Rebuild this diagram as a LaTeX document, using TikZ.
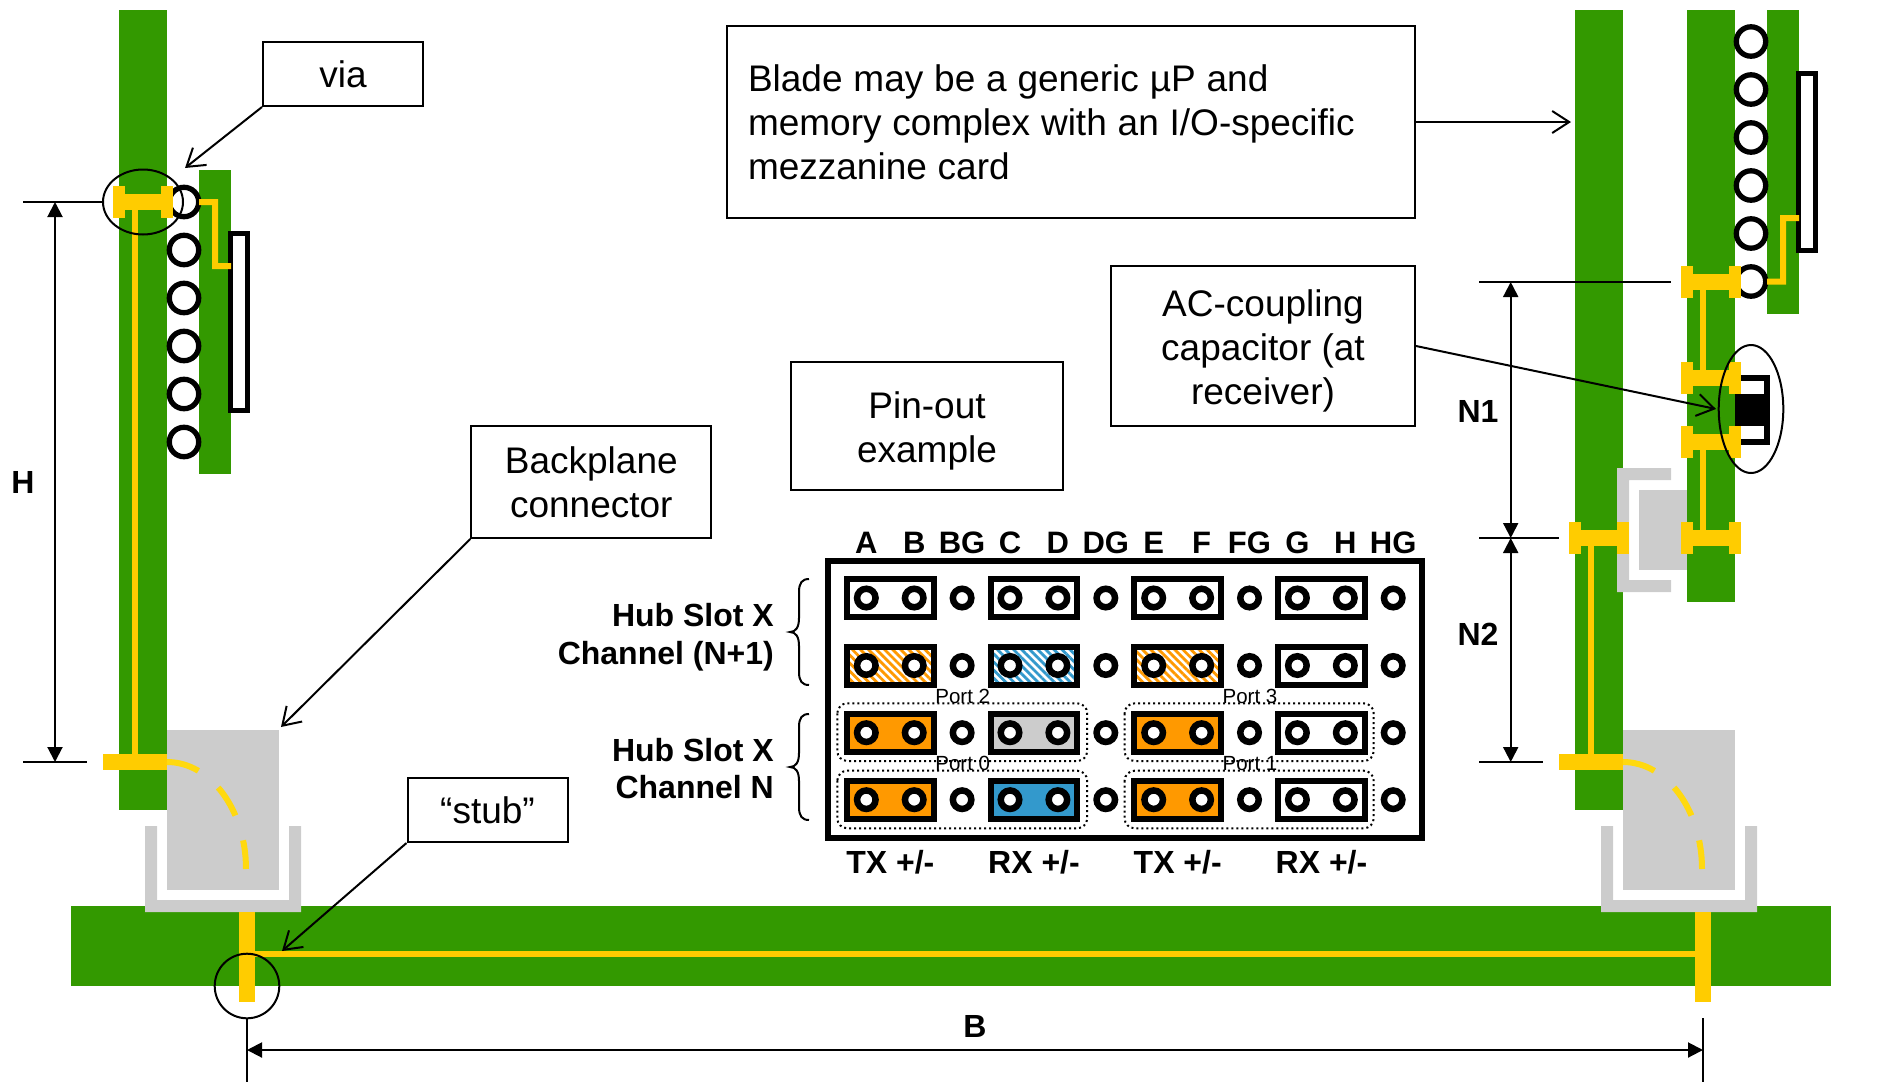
\documentclass[tikz,border=0pt]{standalone}
\usepackage{fontspec}
\usepackage{xcolor}
\usetikzlibrary{arrows.meta,patterns.meta}
\setmainfont{Liberation Sans}
\definecolor{boardgreen}{HTML}{339900}
\definecolor{traceyellow}{HTML}{FFCC00}
\definecolor{bendyellow}{HTML}{FFD90F}
\definecolor{shellgray}{HTML}{CCCCCC}
\definecolor{txorange}{HTML}{FF9900}
\definecolor{rxblue}{HTML}{3399CC}

\begin{document}
\begin{tikzpicture}[x=1pt,y=-1pt]
    \tikzstyle{board}=[fill=boardgreen]
    \tikzstyle{trace}=[fill=traceyellow]
    \tikzstyle{shell}=[fill=shellgray]
    \tikzstyle{hole}=[draw=black,fill=white,line width=5.3pt]
    \tikzstyle{chip}=[draw=black,fill=white,line width=5.3pt]
    \tikzstyle{ring}=[draw=black,line width=2pt]
    \tikzstyle{callout}=[draw=black,line width=2pt,inner sep=0pt,align=center,font={\fontsize{37}{44}\selectfont}]
    \tikzstyle{pointer}=[draw=black,line width=2pt,-{Straight Barb[length=17pt,width=22pt]}]
    \tikzstyle{dimline}=[draw=black,line width=2pt]
    \tikzstyle{dimarrow}=[draw=black,line width=2pt,{Triangle[length=15pt,width=15pt]}-{Triangle[length=15pt,width=15pt]}]
    \tikzstyle{boldlabel}=[inner sep=0pt,font={\bfseries\fontsize{32}{38}\selectfont}]
    \tikzstyle{collabel}=[anchor=base,inner sep=0pt,font={\bfseries\fontsize{31}{36}\selectfont}]
    \tikzstyle{portlabel}=[anchor=base,inner sep=0pt,font={\fontsize{20.5}{24}\selectfont}]
    \tikzstyle{slotopen}=[draw=black,fill=white,line width=6pt]
    \tikzstyle{slottx}=[draw=black,fill=txorange,line width=6pt]
    \tikzstyle{slotrx}=[draw=black,fill=rxblue,line width=6pt]
    \tikzstyle{slotgray}=[draw=black,fill=shellgray,line width=6pt]
    \tikzstyle{slottxhatch}=[draw=black,line width=6pt,pattern={Lines[angle=-45,distance=5.7pt,line width=2.8pt]},pattern color=txorange]
    \tikzstyle{slotrxhatch}=[draw=black,line width=6pt,pattern={Lines[angle=-45,distance=5.7pt,line width=2.8pt]},pattern color=rxblue]
    \tikzstyle{portgroup}=[draw=black,line width=2pt,rounded corners=10pt,dash pattern=on 2pt off 3pt]

    \useasboundingbox (0,0) rectangle (1881,1087);

    \fill[board] (71,906) rectangle (1831,986);
    \fill[board] (1687,10) rectangle (1735,602);
    \fill[board] (199,170) rectangle (231,474);
    \fill[board] (1767,10) rectangle (1799,313.5);

    \foreach \dx in {0,1456} {
        \begin{scope}[shift={(\dx,0)}]
            \fill[board] (119,10) rectangle (167,810);
            \fill[shell] (167,730) rectangle (279,890);
            \fill[shell] (145,826) -- (157,826) -- (157,900) -- (289,900) -- (289,826) -- (301,826) -- (301,912) -- (145,912) -- cycle;
            \fill[trace] (103,754) rectangle (167,770);
            \draw[bendyellow,line width=6pt,dash pattern=on 33pt off 26pt] (167,762) .. controls (210.5,762) and (246,810) .. (246,869);
            \fill[trace] (239,912) rectangle (255,1002);
        \end{scope}
    }
    \fill[trace] (255,951) rectangle (1695,957);
    \fill[trace] (132,202) rectangle (138,754);
    \fill[trace] (1588,538) rectangle (1594,754);

    \fill[shell] (1671,468) -- (1671,480) -- (1629,480) -- (1629,580) -- (1671,580) -- (1671,592) -- (1617,592) -- (1617,468) -- cycle;
    \fill[shell] (1639,490) rectangle (1687,570);

    \foreach \y in {202,250,298,346,394,442}
        \draw[hole] (184,\y) circle (14.7);
    \foreach \y in {41.5,89.5,137.5,185.5,233.5,281.5}
        \draw[hole] (1751,\y) circle (14.7);

    \draw[chip] (230.5,233.5) rectangle (247.5,410.5);
    \draw[chip] (1798.5,73.5) rectangle (1815.5,250.5);
    \fill[trace] (199,199) -- (218,199) -- (218,263) -- (231,263) -- (231,269) -- (212,269) -- (212,205) -- (199,205) -- cycle;
    \fill[trace] (1767,278.5) -- (1780,278.5) -- (1780,215) -- (1799,215) -- (1799,221) -- (1786,221) -- (1786,284.5) -- (1767,284.5) -- cycle;

    \fill[trace] (1700,282) rectangle (1706,378);
    \fill[trace] (1700,442) rectangle (1706,538);

    \fill[black] (1735,394) rectangle (1770,426);
    \draw[black,line width=6pt] (1741,378) -- (1767,378) -- (1767,442) -- (1741,442);

    \foreach \vx/\vy in {113/202,1681/282,1681/378,1681/442,1681/538,1569/538} {
        \fill[trace] (\vx,\vy-16) rectangle (\vx+12,\vy+16);
        \fill[trace] (\vx+48,\vy-16) rectangle (\vx+60,\vy+16);
        \fill[trace] (\vx+12,\vy-8) rectangle (\vx+48,\vy+8);
    }

    \draw[ring] (143,202) ellipse [x radius=40,y radius=32.5];
    \draw[ring] (1751,409) ellipse [x radius=32.3,y radius=64];
    \draw[ring] (247,986) circle (32.3);

    \coordinate (hTopA) at (23,202);
    \coordinate (hTopB) at (102,202);
    \coordinate (hBotA) at (23,762);
    \coordinate (hBotB) at (87,762);
    \coordinate (hTip) at (55,202);
    \coordinate (hEnd) at (55,762);
    \draw[dimline] (hTopA) -- (hTopB);
    \draw[dimline] (hBotA) -- (hBotB);
    \draw[dimarrow] (hTip) -- (hEnd);

    \coordinate (nTopA) at (1479,282);
    \coordinate (nTopB) at (1671,282);
    \coordinate (nMidA) at (1479,538);
    \coordinate (nMidB) at (1559,538);
    \coordinate (nBotA) at (1479,762);
    \coordinate (nBotB) at (1543,762);
    \coordinate (nOne) at (1510.7,282);
    \coordinate (nTwo) at (1510.7,538);
    \coordinate (nThree) at (1510.7,762);
    \draw[dimline] (nTopA) -- (nTopB);
    \draw[dimline] (nMidA) -- (nMidB);
    \draw[dimline] (nBotA) -- (nBotB);
    \draw[dimarrow] (nOne) -- (nTwo);
    \draw[dimarrow] (nTwo) -- (nThree);

    \coordinate (bLeftA) at (247,1018);
    \coordinate (bLeftB) at (247,1082);
    \coordinate (bRightA) at (1703,1018);
    \coordinate (bRightB) at (1703,1082);
    \coordinate (bTip) at (247,1050);
    \coordinate (bEnd) at (1703,1050);
    \draw[dimline] (bLeftA) -- (bLeftB);
    \draw[dimline] (bRightA) -- (bRightB);
    \draw[dimarrow] (bTip) -- (bEnd);

    \node[boldlabel,anchor=base] (labelH) at (23,493) {H};
    \node[boldlabel,anchor=base] (labelNone) at (1478,422) {N1};
    \node[boldlabel,anchor=base] (labelNtwo) at (1478,645) {N2};
    \node[boldlabel,anchor=base] (labelB) at (975,1037) {B};

    \node[callout,minimum width=160pt,minimum height=64pt] (viaBox) at (343,74) {via};
    \node[callout,minimum width=688pt,minimum height=192pt,text width=646pt,align=left] (bladeBox) at (1071,122) {\spaceskip=10.85pt Blade may be a generic µP and\\memory complex with an I/O-specific\\mezzanine card};
    \node[callout,minimum width=304pt,minimum height=160pt] (acBox) at (1263,346) {\rule{0pt}{36.5pt}AC-coupling\\capacitor (at\\receiver)};
    \node[callout,minimum width=272pt,minimum height=128pt] (pinBox) at (927,426) {\rule{0pt}{36.5pt}Pin-out\\example};
    \node[callout,minimum width=240pt,minimum height=112pt] (bpBox) at (591.3,482) {Backplane\\connector};
    \node[callout,minimum width=160pt,minimum height=64pt] (stubBox) at (487.5,810) {“stub”};

    \coordinate (viaTarget) at (185,168);
    \coordinate (bladeTarget) at (1571,122);
    \coordinate (acTarget) at (1716,409);
    \coordinate (bpTarget) at (281,727);
    \coordinate (stubTarget) at (282,951);
    \draw[pointer] (viaBox.south west) -- (viaTarget);
    \draw[pointer] (bladeBox.east) -- (bladeTarget);
    \draw[pointer] (acBox.east) -- (acTarget);
    \draw[pointer] (bpBox.south west) -- (bpTarget);
    \draw[pointer] (stubBox.south west) -- (stubTarget);

    \draw[black,line width=5.5pt] (828,561) rectangle (1422,838);

    \foreach \cx/\cy/\kind in {890.4/598/slotopen,1034/598/slotopen,1177.7/598/slotopen,1321.5/598/slotopen,
        890.4/665.5/slottxhatch,1034/665.5/slotrxhatch,1177.7/665.5/slottxhatch,1321.5/665.5/slotopen,
        890.4/732.7/slottx,1034/732.7/slotgray,1177.7/732.7/slottx,1321.5/732.7/slotopen,
        890.4/799.7/slottx,1034/799.7/slotrx,1177.7/799.7/slottx,1321.5/799.7/slotopen}
        \draw[\kind] (\cx-43.25,\cy-19) rectangle (\cx+43.25,\cy+19);

    \foreach \i in {0,...,11}
        \foreach \cy in {598,665.5,732.7,799.7}
            \draw[draw=black,fill=white,line width=6.5pt] (866.3+47.9*\i,\cy) circle (9.25);

    \draw[portgroup] (837.3,703.3) rectangle (1087.2,761);
    \draw[portgroup] (837.3,770.7) rectangle (1087.2,828.3);
    \draw[portgroup] (1124.6,703.3) rectangle (1373.7,761);
    \draw[portgroup] (1124.6,770.7) rectangle (1373.7,828.3);

    \node[portlabel] (portTwo) at (962.7,703) {Port 2};
    \node[portlabel] (portThree) at (1250,703) {Port 3};
    \node[portlabel] (portZero) at (962.7,770.7) {Port 0};
    \node[portlabel] (portOne) at (1250,770.7) {Port 1};

    \foreach \i/\pinname in {0/A,1/B,2/BG,3/C,4/D,5/DG,6/E,7/F,8/FG,9/G,10/H,11/HG}
        \node[collabel] (col\i) at (866.3+47.9*\i,553.3) {\pinname};

    \foreach \cx/\dirname [count=\n] in {890.4/TX,1034/RX,1177.7/TX,1321.5/RX}
        \node[boldlabel,anchor=base] (dir\n) at (\cx,873) {\dirname{} +/-};

    \node[boldlabel,anchor=base east] (hubTopA) at (774,626) {Hub Slot X};
    \node[boldlabel,anchor=base east] (hubTopB) at (774,664) {Channel (N+1)};
    \node[boldlabel,anchor=base east] (hubLowA) at (774,761) {Hub Slot X};
    \node[boldlabel,anchor=base east] (hubLowB) at (774,798) {Channel N};

    \foreach \by in {579,714}
        \draw[black,line width=2pt] (809,\by) .. controls (802,\by) and (799,\by+4) .. (799,\by+13) -- (799,\by+39) .. controls (799,\by+48) and (796,\by+53) .. (790,\by+53)
            .. controls (796,\by+53) and (799,\by+58) .. (799,\by+67) -- (799,\by+93) .. controls (799,\by+102) and (802,\by+106) .. (809,\by+106);
\end{tikzpicture}
\end{document}
